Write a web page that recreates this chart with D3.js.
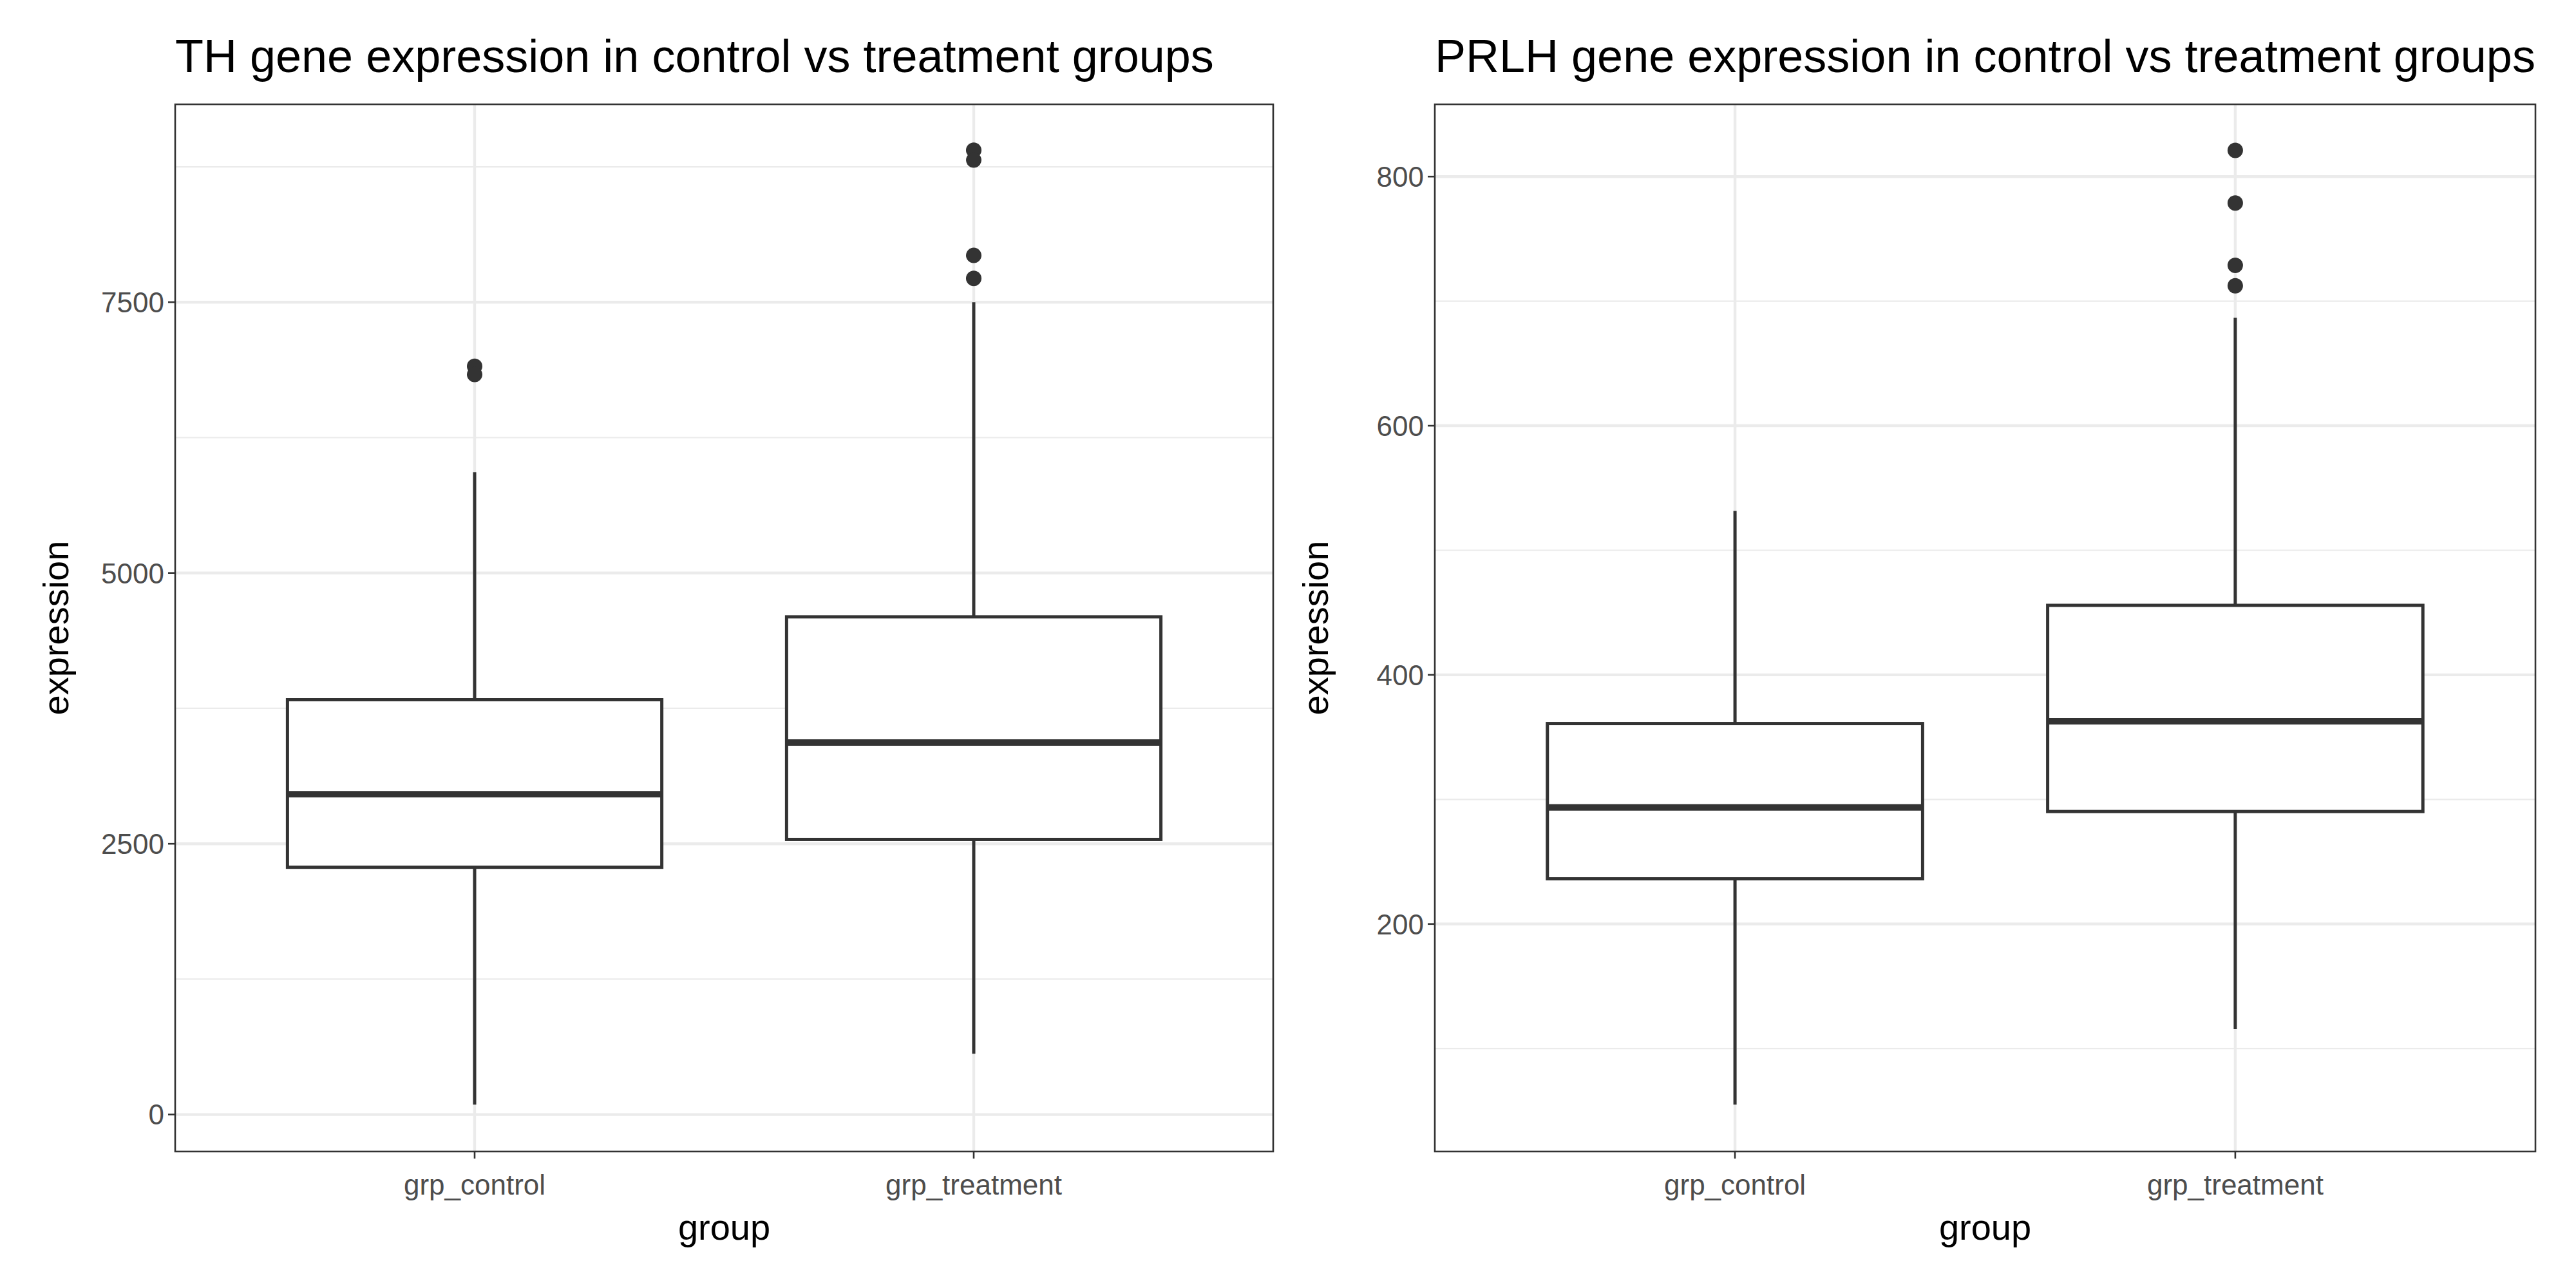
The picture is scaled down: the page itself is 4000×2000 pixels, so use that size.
<!DOCTYPE html>
<html><head><meta charset="utf-8">
<script src="https://cdn.jsdelivr.net/npm/d3@7"></script>
<style>body{margin:0;background:#fff}</style></head>
<body><svg id="c" width="4000" height="2000"></svg>
<script>
const groups = ["grp_control","grp_treatment"];
const thStats = [
  {lo:91, q1:2283, med:2957, q3:3830, hi:5930, out:[6908,6832]},
  {lo:561, q1:2540, med:3435, q3:4595, hi:7500, out:[8903,8812,7932,7720]}
];
const prlhStats = [
  {lo:55, q1:236.3, med:293.6, q3:360.9, hi:531.6, out:[]},
  {lo:115.6, q1:290.3, med:362.8, q3:455.8, hi:686.6, out:[821,778.8,728.8,712.3]}
];
const thTicks = [0,2500,5000,7500];
const thMinor = [1250,3750,6250,8750];
const prlhTicks = [200,400,600,800];
const prlhMinor = [100,300,500,700];

const svg = d3.select("#c");
const F = "Liberation Sans, Arial, sans-serif";

function panel(x0,x1,domain,stats,ticks,minor,title){
  const top=162,bottom=1788;
  const g=svg.append("g");
  const y=d3.scaleLinear().domain(domain).range([bottom,top]);
  const xs=d3.scaleLinear().domain([0.4,2.6]).range([x0,x1]);
  const cx=d=>xs(groups.indexOf(d)+1);
  const bw=xs(1.375)-xs(0.625);
  g.append("rect").attr("x",x0).attr("y",top).attr("width",x1-x0).attr("height",bottom-top).attr("fill","#fff");
  minor.forEach(v=>g.append("line").attr("x1",x0).attr("x2",x1).attr("y1",y(v)).attr("y2",y(v)).attr("stroke","#EBEBEB").attr("stroke-width",2.2));
  ticks.forEach(v=>g.append("line").attr("x1",x0).attr("x2",x1).attr("y1",y(v)).attr("y2",y(v)).attr("stroke","#EBEBEB").attr("stroke-width",4.4));
  groups.forEach(d=>g.append("line").attr("x1",cx(d)).attr("x2",cx(d)).attr("y1",top).attr("y2",bottom).attr("stroke","#EBEBEB").attr("stroke-width",4.4));
  stats.forEach((s,i)=>{
    const c=cx(groups[i]);
    const st="#333333";
    g.append("line").attr("x1",c).attr("x2",c).attr("y1",y(s.hi)).attr("y2",y(s.q3)).attr("stroke",st).attr("stroke-width",5);
    g.append("line").attr("x1",c).attr("x2",c).attr("y1",y(s.q1)).attr("y2",y(s.lo)).attr("stroke",st).attr("stroke-width",5);
    g.append("rect").attr("x",c-bw/2).attr("width",bw).attr("y",y(s.q3)).attr("height",y(s.q1)-y(s.q3)).attr("fill","#fff").attr("stroke",st).attr("stroke-width",5);
    g.append("line").attr("x1",c-bw/2).attr("x2",c+bw/2).attr("y1",y(s.med)).attr("y2",y(s.med)).attr("stroke",st).attr("stroke-width",10);
    s.out.forEach(o=>g.append("circle").attr("cx",c).attr("cy",y(o)).attr("r",12).attr("fill",st));
  });
  g.append("rect").attr("x",x0).attr("y",top).attr("width",x1-x0).attr("height",bottom-top).attr("fill","none").attr("stroke","#333").attr("stroke-width",2.6);
  ticks.forEach(v=>{
    g.append("line").attr("x1",x0-11).attr("x2",x0).attr("y1",y(v)).attr("y2",y(v)).attr("stroke","#333").attr("stroke-width",2.6);
    g.append("text").attr("x",x0-17).attr("y",y(v)).attr("dy","0.36em").attr("text-anchor","end").attr("font-family",F).attr("font-size",44).attr("fill","#4D4D4D").text(v);
  });
  groups.forEach(d=>{
    g.append("line").attr("x1",cx(d)).attr("x2",cx(d)).attr("y1",bottom).attr("y2",bottom+11).attr("stroke","#333").attr("stroke-width",2.6);
    g.append("text").attr("x",cx(d)).attr("y",1855).attr("text-anchor","middle").attr("font-family",F).attr("font-size",44).attr("fill","#4D4D4D").text(d);
  });
  g.append("text").attr("x",(x0+x1)/2).attr("y",1925).attr("text-anchor","middle").attr("font-family",F).attr("font-size",56).attr("fill","#000").text("group");
  g.append("text").attr("transform",`translate(${x0-166},${(top+bottom)/2}) rotate(-90)`).attr("text-anchor","middle").attr("font-family",F).attr("font-size",56).attr("fill","#000").text("expression");
  g.append("text").attr("x",x0).attr("y",112).attr("font-family",F).attr("font-size",72).attr("fill","#000").text(title);
}
panel(272,1977,[-341,9327],thStats,thTicks,thMinor,"TH gene expression in control vs treatment groups");
panel(2228,3937,[17.4,858],prlhStats,prlhTicks,prlhMinor,"PRLH gene expression in control vs treatment groups");
</script></body></html>
